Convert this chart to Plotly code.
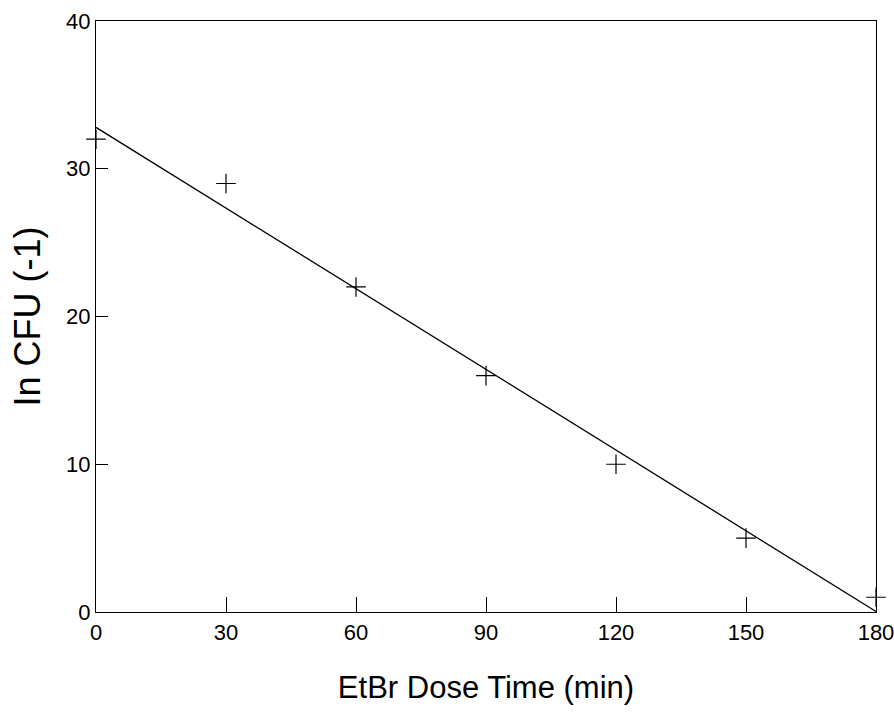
import plotly.graph_objects as go

# Data
dose_time = [0, 30, 60, 90, 120, 150, 180]
ln_cfu = [32, 29, 22, 16, 10, 5, 1]

# Fitted regression line (endpoints)
fit_x = [0, 180]
fit_y = [32.8, 0.04]

x_ticks = [0, 30, 60, 90, 120, 150, 180]
y_ticks = [0, 10, 20, 30, 40]

NARROW = "Liberation Sans Narrow, Arial Narrow, Liberation Sans, Arial, sans-serif"
REG = "Liberation Sans, Arial, sans-serif"

fig = go.Figure()
fig.add_trace(go.Scatter(
    x=fit_x, y=fit_y, mode="lines",
    line=dict(color="black", width=1.3),
    showlegend=False, hoverinfo="skip"))
fig.add_trace(go.Scatter(
    x=dose_time, y=ln_cfu, mode="markers",
    marker=dict(symbol="cross-thin-open", size=14, color="black",
                line=dict(color="black", width=1.2)),
    showlegend=False, cliponaxis=False))

fig.update_layout(
    width=894, height=716,
    margin=dict(l=96, r=18, t=21, b=104),
    paper_bgcolor="white", plot_bgcolor="white",
    xaxis=dict(
        range=[0, 180], tickvals=x_ticks, ticktext=[str(v) for v in x_ticks],
        showgrid=False, zeroline=False, automargin=False,
        ticklabeloverflow="allow",
        showline=True, linecolor="black", linewidth=1.3, mirror=True,
        ticks="inside", ticklen=15, tickcolor="black", tickwidth=1,
        tickfont=dict(family=NARROW, size=22, color="black"),
        title=dict(text="EtBr Dose Time (min)",
                   font=dict(family=NARROW, size=31, color="black"),
                   standoff=32),
    ),
    yaxis=dict(
        range=[0, 40], tickvals=y_ticks, ticktext=[str(v) for v in y_ticks],
        showgrid=False, zeroline=False, automargin=False,
        ticklabeloverflow="allow",
        showline=True, linecolor="black", linewidth=1.3, mirror=True,
        ticks="inside", ticklen=12, tickcolor="black", tickwidth=1,
        tickfont=dict(family=NARROW, size=22, color="black"),
        title=dict(text="In CFU (-1)",
                   font=dict(family=REG, size=36, color="black"),
                   standoff=14),
    ),
)

fig.write_html(
    "out.html",
    config={"displayModeBar": False},
    post_script="document.body.style.margin='0';document.body.style.overflow='hidden';",
)
